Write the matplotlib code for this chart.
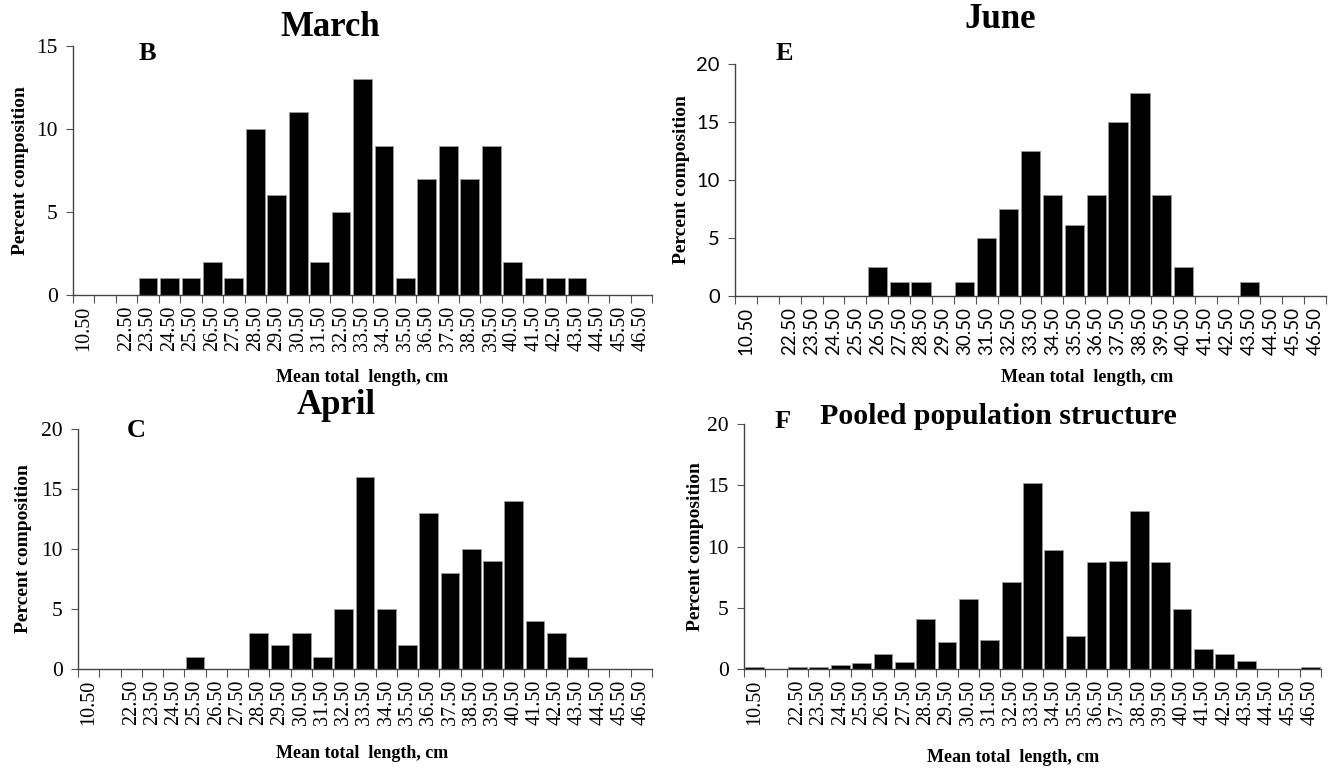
import matplotlib
matplotlib.use("Agg")
import matplotlib.pyplot as plt
import numpy as np

categories = ["10.50", "", "22.50", "23.50", "24.50", "25.50", "26.50", "27.50", "28.50",
              "29.50", "30.50", "31.50", "32.50", "33.50", "34.50", "35.50", "36.50",
              "37.50", "38.50", "39.50", "40.50", "41.50", "42.50", "43.50", "44.50",
              "45.50", "46.50"]

march = [0, 0, 0, 1, 1, 1, 2, 1, 10, 6, 11, 2, 5, 13, 9, 1, 7, 9, 7, 9, 2, 1, 1, 1, 0, 0, 0]
june = [0, 0, 0, 0, 0, 0, 2.5, 1.25, 1.25, 0, 1.25, 5, 7.5, 12.5, 8.75, 6.15, 8.75, 15, 17.5,
        8.75, 2.5, 0, 0, 1.25, 0, 0, 0]
april = [0, 0, 0, 0, 0, 1, 0, 0, 3, 2, 3, 1, 5, 16, 5, 2, 13, 8, 10, 9, 14, 4, 3, 1, 0, 0, 0]
pooled = [0.2, 0, 0.2, 0.2, 0.35, 0.45, 1.25, 0.6, 4.1, 2.2, 5.75, 2.4, 7.1, 15.2, 9.7, 2.7,
          8.7, 8.8, 12.9, 8.75, 4.9, 1.65, 1.25, 0.65, 0, 0, 0.2]

SERIF = "Liberation Serif"
SANS = "Lato"

W, H = 1340, 769
fig = plt.figure(figsize=(W / 100, H / 100), dpi=100)


def rect(x0, x1, ytop, ybot):
    return [x0 / W, 1 - ybot / H, (x1 - x0) / W, (ybot - ytop) / H]


def panel(r, values, ymax, tickfont, tsize, ylab_x, xlab_xy):
    ax = fig.add_axes(rect(*r))
    x = np.arange(len(categories))
    ax.bar(x, values, width=0.88, color="black", edgecolor="#9a9a9a", linewidth=0.6)
    ax.set_xlim(-0.5, len(categories) - 0.5)
    ax.set_ylim(0, ymax)
    ax.set_yticks(np.arange(0, ymax + 1, 5))
    ax.set_xticks(x)
    ax.set_xticklabels(categories, rotation=90, fontfamily=tickfont, fontsize=tsize)
    ax.set_xticks(np.arange(-0.5, len(categories), 1.0), minor=True)
    ax.tick_params(axis="x", which="major", length=0, pad=8)
    ax.tick_params(axis="x", which="minor", length=6, width=0.8, direction="out", color="#555555")
    ax.tick_params(axis="y", length=5, width=0.8, direction="out", color="#555555", pad=6)
    for lab in ax.get_yticklabels():
        lab.set_fontfamily(tickfont)
        lab.set_fontsize(tsize + 1)
    for s in ["top", "right"]:
        ax.spines[s].set_visible(False)
    for s in ["left", "bottom"]:
        ax.spines[s].set_color("#444444")
        ax.spines[s].set_linewidth(1.0)
    fig.text(ylab_x / W, 1 - (r[2] + r[3]) / 2 / H, "Percent composition", rotation=90,
             ha="center", va="center", fontfamily=SERIF, fontweight="bold", fontsize=14)
    fig.text(xlab_xy[0] / W, 1 - xlab_xy[1] / H, "Mean total  length, cm",
             ha="center", va="center", fontfamily=SERIF, fontweight="bold", fontsize=13)
    return ax


panel((73, 652, 46, 295), march, 15, SERIF, 14.5, 21, (362, 378))
panel((735, 1326, 64, 296), june, 20, SANS, 13.5, 682, (1087, 378))
panel((78, 652, 429, 669), april, 20, SERIF, 14.5, 24, (362, 753))
panel((744, 1321, 424, 669), pooled, 20, SERIF, 14.5, 695, (1013, 757))

def t(x, y, s, size):
    fig.text(x / W, 1 - y / H, s, ha="center", va="center", fontfamily=SERIF,
             fontweight="bold", fontsize=size)

t(330, 27, "March", 25)
t(1000, 20, "June", 25)
t(336, 405, "April", 25)
t(998, 417, "Pooled population structure", 21.5)
t(147, 54, "B", 19)
t(784, 53, "E", 19)
t(136, 430, "C", 19)
t(783, 421, "F", 19)

fig.savefig("out.png", dpi=100, facecolor="white")
